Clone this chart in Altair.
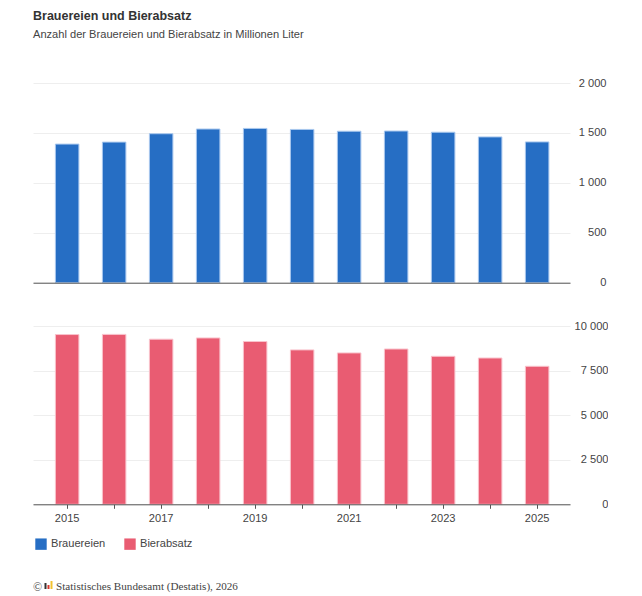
import altair as alt
import pandas as pd

years = [2015, 2016, 2017, 2018, 2019, 2020, 2021, 2022, 2023, 2024, 2025]
brauereien = [1388, 1408, 1492, 1539, 1545, 1535, 1517, 1519, 1507, 1460, 1410]
bierabsatz = [9520, 9530, 9260, 9330, 9130, 8660, 8490, 8710, 8300, 8205, 7740]
series = ["Brauereien", "Bierabsatz"]
colors = ["#266EC4", "#E95C72"]
strokes = ["#A9C8EE", "#F9C3CC"]
top_ticks = [0, 500, 1000, 1500, 2000]
bottom_ticks = [0, 2500, 5000, 7500, 10000]
title = "Brauereien und Bierabsatz"
subtitle = "Anzahl der Brauereien und Bierabsatz in Millionen Liter"
source = "Statistisches Bundesamt (Destatis), 2026"
logo_colors = ["#333333", "#D9372C", "#F2C230"]
logo_heights = [6, 4, 8]

df = pd.concat([
    pd.DataFrame({"Jahr": years, "Wert": brauereien, "Reihe": series[0]}),
    pd.DataFrame({"Jahr": years, "Wert": bierabsatz, "Reihe": series[1]}),
])

FONT = "Liberation Sans"
TXT = "#444444"
FS = 11.1
W = 537
color = alt.Color(
    "Reihe:N",
    scale=alt.Scale(domain=series, range=colors),
    legend=alt.Legend(
        title=None, orient="none", legendX=2, legendY=455, direction="horizontal",
        symbolType="square", symbolSize=130, symbolStrokeWidth=0, symbolOpacity=1,
        labelFont=FONT, labelFontSize=FS, labelColor=TXT, columnPadding=18, labelOffset=4,
    ),
)
stroke = alt.Stroke("Reihe:N", scale=alt.Scale(domain=series, range=strokes), legend=None)
band = alt.Scale(paddingInner=0.5, paddingOuter=0.4628, align=0.515)
label_expr = "datum.value % 2 == 1 ? datum.value : ''"
num_expr = "replace(format(datum.value, ','), ',', ' ')"


def y_axis(ticks, pad):
    return alt.Axis(
        orient="right", values=ticks, title=None, domain=False, ticks=False,
        labelExpr=num_expr, labelFont=FONT, labelFontSize=FS, labelColor=TXT,
        labelAlign="right", labelPadding=pad, grid=True, gridColor="#EEEEEE", gridWidth=1,
    )


top = alt.Chart(df[df.Reihe == series[0]]).mark_bar(strokeWidth=1).encode(
    x=alt.X("Jahr:O", scale=band, title=None, axis=alt.Axis(
        labels=False, ticks=False, domainColor="#555555", domainWidth=1, grid=False, zindex=1)),
    y=alt.Y("Wert:Q", scale=alt.Scale(domain=[0, 2000], nice=False), axis=y_axis(top_ticks, 36)),
    color=color, stroke=stroke,
).properties(width=W, height=199.7)

bars = alt.Chart(df[df.Reihe == series[1]]).mark_bar(strokeWidth=1).encode(
    x=alt.X("Jahr:O", scale=band, title=None, axis=alt.Axis(
        labelAngle=0, labelExpr=label_expr, labelFont=FONT, labelFontSize=FS,
        labelColor=TXT, labelPadding=4, labelOverlap=False, tickSize=4, tickColor="#555555",
        domainColor="#555555", domainWidth=1, grid=False, zindex=1)),
    y=alt.Y("Wert:Q", scale=alt.Scale(domain=[0, 10000], nice=False), axis=y_axis(bottom_ticks, 38)),
    color=color, stroke=stroke,
)
foot = alt.Chart(pd.DataFrame({"t": [source]})).mark_text(
    align="left", baseline="alphabetic", font="Liberation Serif", fontSize=11.15, color="#444444"
).encode(text="t:N", x=alt.value(23), y=alt.value(264))
copyr = alt.Chart(pd.DataFrame({"t": ["©"]})).mark_text(
    align="left", baseline="alphabetic", font="Liberation Serif", fontSize=12, color="#444444"
).encode(text="t:N", x=alt.value(0), y=alt.value(265))
logo = [
    alt.Chart(pd.DataFrame({"c": [c]})).mark_rule(strokeWidth=2, color=c).encode(
        x=alt.value(12.5 + 3 * i), y=alt.value(263 - h), y2=alt.value(263))
    for i, (c, h) in enumerate(zip(logo_colors, logo_heights))
]
bottom = alt.layer(bars, foot, copyr, *logo).properties(width=W, height=178.3)

chart = alt.vconcat(top, bottom, spacing=32).properties(
    title=alt.TitleParams(
        text=title, subtitle=subtitle, anchor="start", frame="group", offset=36.5,
        font=FONT, fontSize=12.5, fontWeight="bold", color="#333333",
        subtitleFont=FONT, subtitleFontSize=FS, subtitleColor=TXT, subtitlePadding=7,
    ),
    padding={"left": 25, "top": 1, "right": 0, "bottom": 0},
).configure_view(stroke=None).resolve_scale(x="independent")

chart.save("out.html", embed_options={"renderer": "svg", "actions": False})
